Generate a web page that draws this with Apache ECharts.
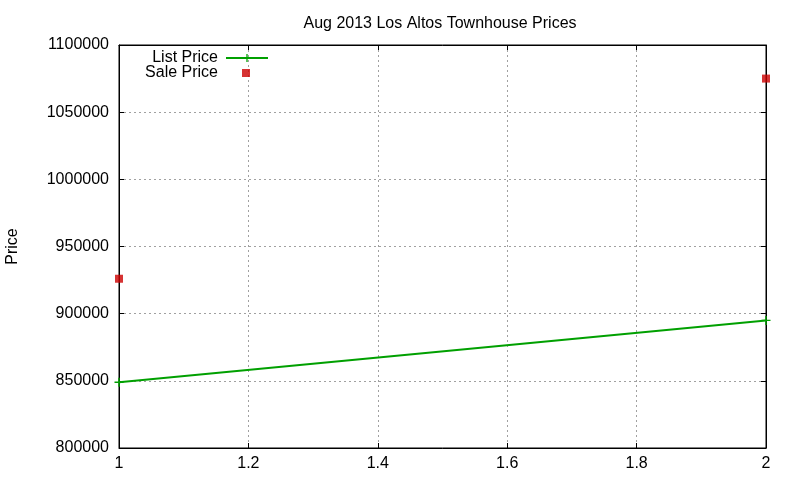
<!DOCTYPE html>
<html>
<head>
<meta charset="utf-8">
<script src="https://cdn.jsdelivr.net/npm/echarts@6/dist/echarts.min.js"></script>
<style>html,body{margin:0;padding:0;background:#fff;}#c{width:800px;height:480px;}</style>
</head>
<body>
<div id="c"></div>
<script>
const titleText = 'Aug 2013 Los Altos Townhouse Prices';
const xValues = [1, 2];
const listPrices = [849000, 895000];
const salePrices = [926000, 1075000];
const seriesNames = ['List Price', 'Sale Price'];

const chart = echarts.init(document.getElementById('c'), null, {renderer: 'canvas'});
const FONT = 'Liberation Sans, Arial, sans-serif';
const plus = 'path://M4.2,0H5.8V4.2H10V5.8H5.8V10H4.2V5.8H0V4.2H4.2Z';
const gridLine = {show: true, lineStyle: {color: '#a0a0a0', type: [2, 3], width: 1}};
const option = {
  backgroundColor: '#fff',
  animation: false,
  title: {text: titleText, left: 435, top: 11, textAlign: 'center',
    textStyle: {fontFamily: FONT, fontSize: 16, fontWeight: 'normal', color: '#000'}},
  grid: {left: 119, right: 34, top: 45, bottom: 32, containLabel: false, outerBoundsMode: 'none',
    show: true, borderColor: '#000', borderWidth: 1},
  legend: [
    {data: [seriesNames[0]], orient: 'vertical', align: 'right', right: 531, top: 50,
     itemWidth: 42, itemHeight: 10, itemGap: 0, padding: 0,
     textStyle: {fontFamily: FONT, fontSize: 16, color: '#000', padding: [0, 3, 0, 0]}},
    {data: [seriesNames[1]], orient: 'vertical', align: 'right', right: 550, top: 65,
     itemWidth: 8, itemHeight: 8, itemGap: 0, padding: 0, icon: 'rect',
     textStyle: {fontFamily: FONT, fontSize: 16, color: '#000', padding: [0, 19, 0, 0]}}
  ],
  xAxis: [
    {type: 'value', min: 1, max: 2, interval: 0.2, position: 'bottom',
     axisLine: {show: true, lineStyle: {color: '#000'}},
     axisTick: {show: true, inside: true, length: 5, lineStyle: {color: '#000'}},
     axisLabel: {fontFamily: FONT, fontSize: 16, color: '#000', margin: 8,
       formatter: v => String(Math.round(v * 10) / 10)},
     splitLine: gridLine},
    {type: 'value', min: 1, max: 2, interval: 0.2, position: 'top',
     axisLine: {show: true, lineStyle: {color: '#000'}},
     axisTick: {show: true, inside: true, length: 5, lineStyle: {color: '#000'}},
     axisLabel: {show: false}, splitLine: {show: false}}
  ],
  yAxis: [
    {type: 'value', min: 800000, max: 1100000, interval: 50000, position: 'left',
     name: 'Price', nameLocation: 'middle', nameGap: 98, nameRotate: 90,
     nameTextStyle: {fontFamily: FONT, fontSize: 16, color: '#000'},
     axisLine: {show: true, lineStyle: {color: '#000'}},
     axisTick: {show: true, inside: true, length: 5, lineStyle: {color: '#000'}},
     axisLabel: {fontFamily: FONT, fontSize: 16, color: '#000', margin: 10, formatter: v => String(v)},
     splitLine: gridLine},
    {type: 'value', min: 800000, max: 1100000, interval: 50000, position: 'right',
     axisLine: {show: true, lineStyle: {color: '#000'}},
     axisTick: {show: true, inside: true, length: 5, lineStyle: {color: '#000'}},
     axisLabel: {show: false}, splitLine: {show: false}}
  ],
  series: [
    {name: seriesNames[0], type: 'line', xAxisIndex: 0, yAxisIndex: 0,
     data: xValues.map((x, i) => [x, listPrices[i]]),
     symbol: plus, symbolSize: 9, showSymbol: true, clip: false,
     lineStyle: {color: '#00a000', width: 2}, itemStyle: {color: '#00a000'}},
    {name: seriesNames[1], type: 'scatter', xAxisIndex: 0, yAxisIndex: 0,
     data: xValues.map((x, i) => [x, salePrices[i]]),
     symbol: 'rect', symbolSize: 8, clip: false,
     itemStyle: {color: '#cc0000'}}
  ]
};
chart.setOption(option);
</script>
</body>
</html>
